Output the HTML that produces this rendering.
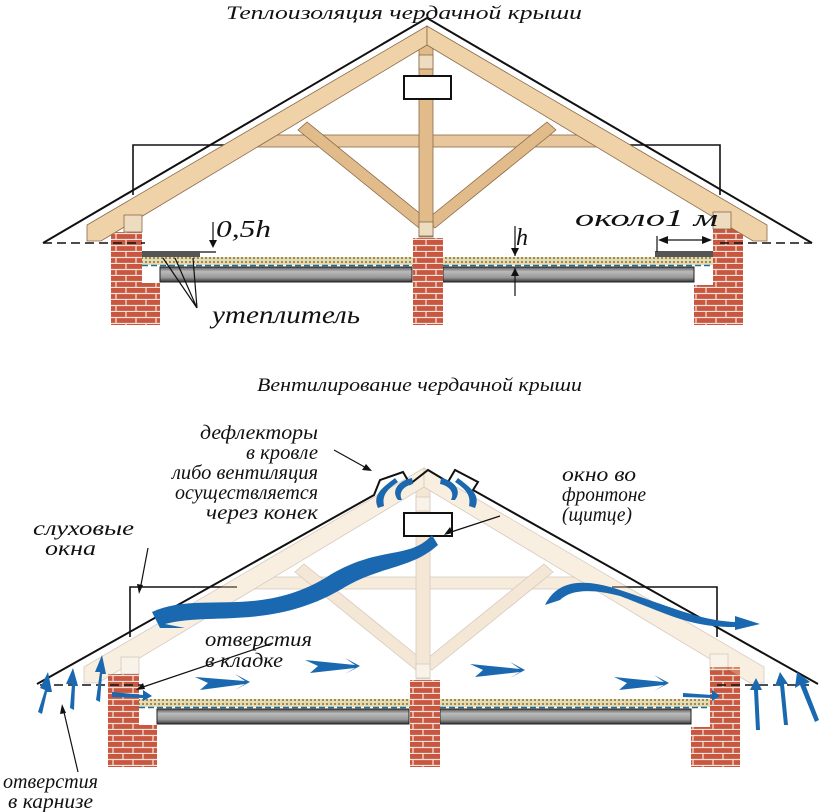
<!DOCTYPE html>
<html><head><meta charset="utf-8"><style>
body{margin:0;background:#fff}
svg{display:block}
text{font-family:"Liberation Serif","DejaVu Serif",serif;font-style:italic;fill:#111}
</style></head><body>
<svg width="838" height="812" viewBox="0 0 838 812" xmlns="http://www.w3.org/2000/svg">
<defs>
<pattern id="br" width="20" height="12" patternUnits="userSpaceOnUse">
<rect width="20" height="12" fill="#c9573f"/>
<path d="M0 5.5H20M0 11.5H20M6 0V5.5M16 6V12" stroke="#f3e3dc" stroke-width="1.2"/>
</pattern>
<pattern id="ins" width="4" height="4" patternUnits="userSpaceOnUse">
<rect width="4" height="4" fill="#e9dcaa"/><circle cx="2" cy="2" r="1" fill="#7a6f50"/>
</pattern>
<linearGradient id="beam" x1="0" y1="0" x2="0" y2="1">
<stop offset="0" stop-color="#555"/><stop offset="0.3" stop-color="#bbb"/><stop offset="0.7" stop-color="#999"/><stop offset="1" stop-color="#333"/>
</linearGradient>
<g id="base">
<path d="M133 195V145H240M615 145H720V195" fill="none" stroke="#111" stroke-width="1.6"/>
<rect x="160" y="267" width="252" height="15" fill="url(#beam)" stroke="#222"/>
<rect x="443" y="267" width="251" height="15" fill="url(#beam)" stroke="#222"/>
<rect x="142" y="257" width="271" height="8" fill="url(#ins)"/>
<rect x="443" y="257" width="270" height="8" fill="url(#ins)"/>
<path d="M142 265.5H413M443 265.5H713" stroke="#1c6aa8" stroke-width="1.5" stroke-dasharray="6 3"/>
<rect x="111" y="232" width="31" height="93" fill="url(#br)"/>
<rect x="142" y="283" width="18" height="42" fill="url(#br)"/>
<rect x="413" y="238" width="30" height="87" fill="url(#br)"/>
<rect x="713" y="225" width="30" height="100" fill="url(#br)"/>
<rect x="694" y="285" width="19" height="40" fill="url(#br)"/>
<path d="M43 243H145M720 243H812" stroke="#111" stroke-width="1.6" stroke-dasharray="9 5"/>
</g>
<g id="wood" stroke="#8a6a48" stroke-width="0.8">
<rect x="250" y="135" width="355" height="12" fill="#e9c79c"/>
<path d="M419 228L298 130L307 122L428 220Z" fill="#e2bb8a"/>
<path d="M435 228L556 130L547 122L426 220Z" fill="#e2bb8a"/>
<rect x="419" y="38" width="14" height="199" fill="#e2bb8a"/>
<path d="M427 26L87 225V241H101L427 45Z" fill="#f0d2a8"/>
<path d="M427 26L767 225V241H753L427 45Z" fill="#f0d2a8"/>
<rect x="124" y="215" width="18" height="17" fill="#eedcc0"/>
<rect x="713" y="212" width="18" height="17" fill="#eedcc0"/>
<rect x="419" y="55" width="14" height="14" fill="#eedcc0"/>
<rect x="419" y="222" width="14" height="14" fill="#eedcc0"/>
</g>
</defs>

<!-- TOP -->
<text x="226" y="19" font-size="19" textLength="356" lengthAdjust="spacingAndGlyphs">Теплоизоляция чердачной крыши</text>
<use href="#base"/>
<use href="#wood"/>
<path d="M43 243L427 18L812 243" fill="none" stroke="#111" stroke-width="2"/>
<rect x="404" y="76" width="47" height="23" fill="#fff" stroke="#111" stroke-width="2"/>
<rect x="142" y="251" width="58" height="6" fill="#555"/>
<rect x="655" y="251" width="58" height="6" fill="#555"/>
<path d="M213 222V246M200 252H216" stroke="#111" stroke-width="1.2"/>
<path d="M209 240L213 248L217 240Z" fill="#111"/>
<path d="M515 226V256M515 268V296" stroke="#111" stroke-width="1.2"/>
<path d="M511 248L515 256L519 248ZM511 276L515 268L519 276Z" fill="#111"/>
<path d="M657 236V252M660 240H710" stroke="#111" stroke-width="1.2"/>
<path d="M668 236L658 240L668 244ZM702 236L712 240L702 244Z" fill="#111"/>
<path d="M163 258L197 308M175 258L197 308M193 258L197 308" stroke="#111" stroke-width="1.2"/>
<text x="216" y="237" font-size="24" textLength="55" lengthAdjust="spacingAndGlyphs">0,5h</text>
<text x="516" y="245" font-size="24">h</text>
<text x="575" y="226" font-size="24" textLength="143" lengthAdjust="spacingAndGlyphs">около1 м</text>
<text x="212" y="323" font-size="25" textLength="148" lengthAdjust="spacingAndGlyphs">утеплитель</text>

<!-- BOTTOM -->
<text x="257" y="391" font-size="19" textLength="325" lengthAdjust="spacingAndGlyphs">Вентилирование чердачной крыши</text>
<g transform="translate(-3,442)"><use href="#base"/><g opacity="0.35"><use href="#wood"/></g></g>
<path d="M37 684L374 495L380 480L403 472L410 484L428 470L448 482L455 470L478 482L473 490L818 684" fill="none" stroke="#111" stroke-width="2"/>
<rect x="404" y="513" width="48" height="23" fill="#fff" stroke="#111" stroke-width="2"/>
<g fill="#1a68b0">
<path d="M152 612C200 590 260 620 330 575C380 545 410 560 432 535L438 545C410 570 380 565 340 590C270 630 210 612 165 624L185 628L160 628Z"/>
<path d="M545 605C555 585 575 575 620 590C680 610 700 620 735 622L735 616L760 624L735 630L735 627C690 627 670 615 620 596C590 588 570 590 560 600Z"/>
<path d="M195 677L245 681L235 674L250 682L235 690L245 684L200 690L208 683Z"/>
<path d="M305 660L355 665L345 658L360 666L345 674L355 668L310 673L318 666Z"/>
<path d="M470 664L520 669L510 662L525 670L510 678L520 672L475 677L483 670Z"/>
<path d="M614 677L664 682L654 675L669 683L654 691L664 685L619 690L627 683Z"/>
<path d="M683 693L712 695L712 690L720 696L712 701L712 698L683 697Z"/>
<path d="M112 692L143 695L143 690L152 696L143 701L143 698L112 697Z"/>
<path d="M38 712L45 690L40 688L48 672L52 692L47 692L42 714Z"/>
<path d="M70 708L72 684L66 684L73 668L78 686L75 686L74 710Z"/>
<path d="M96 700L100 672L95 672L102 655L106 674L102 674L100 702Z"/>
<path d="M756 730L754 690L750 690L756 678L762 690L758 690L760 730Z"/>
<path d="M784 725L780 685L775 686L780 672L788 684L784 684L788 725Z"/>
<path d="M815 722L800 685L795 688L797 672L810 682L805 684L819 720Z"/>
<path d="M378 508C372 495 382 488 395 478L398 482C386 490 382 496 384 506Z"/>
<path d="M398 500C390 490 400 480 412 478L413 484C404 486 398 492 402 500Z"/>
<path d="M475 508C481 495 471 488 458 478L455 482C467 490 471 496 469 506Z"/>
<path d="M455 500C463 490 453 480 441 478L440 484C449 486 455 492 451 500Z"/>
</g>
<g stroke="#111" stroke-width="1.2" fill="none">
<path d="M334 450L370 470M148 548L140 590M500 516L448 533M273 643L140 688M78 772L63 708"/>
</g>
<g fill="#111">
<path d="M372 471L362 470L366 464Z"/><path d="M139 594L137 584L143 585Z"/>
<path d="M444 535L450 527L453 533Z"/><path d="M136 690L143 683L145 689Z"/><path d="M62 704L60 714L66 713Z"/>
</g>
<g font-size="20">
<text x="200" y="439" textLength="118" lengthAdjust="spacingAndGlyphs">дефлекторы</text>
<text x="246" y="459" textLength="72" lengthAdjust="spacingAndGlyphs">в кровле</text>
<text x="172" y="479" textLength="146" lengthAdjust="spacingAndGlyphs">либо вентиляция</text>
<text x="175" y="499" textLength="143" lengthAdjust="spacingAndGlyphs">осуществляется</text>
<text x="206" y="519" textLength="112" lengthAdjust="spacingAndGlyphs">через конек</text>
<text x="562" y="481" textLength="74" lengthAdjust="spacingAndGlyphs">окно во</text>
<text x="562" y="501" textLength="84" lengthAdjust="spacingAndGlyphs">фронтоне</text>
<text x="562" y="521" textLength="70" lengthAdjust="spacingAndGlyphs">(щитце)</text>
<text x="33" y="535" textLength="101" lengthAdjust="spacingAndGlyphs">слуховые</text>
<text x="45" y="555" textLength="51" lengthAdjust="spacingAndGlyphs">окна</text>
<text x="205" y="646" textLength="107" lengthAdjust="spacingAndGlyphs">отверстия</text>
<text x="205" y="667" textLength="78" lengthAdjust="spacingAndGlyphs">в кладке</text>
<text x="3" y="788" textLength="95" lengthAdjust="spacingAndGlyphs">отверстия</text>
<text x="8" y="808" textLength="85" lengthAdjust="spacingAndGlyphs">в карнизе</text>
</g>
</svg>
</body></html>
